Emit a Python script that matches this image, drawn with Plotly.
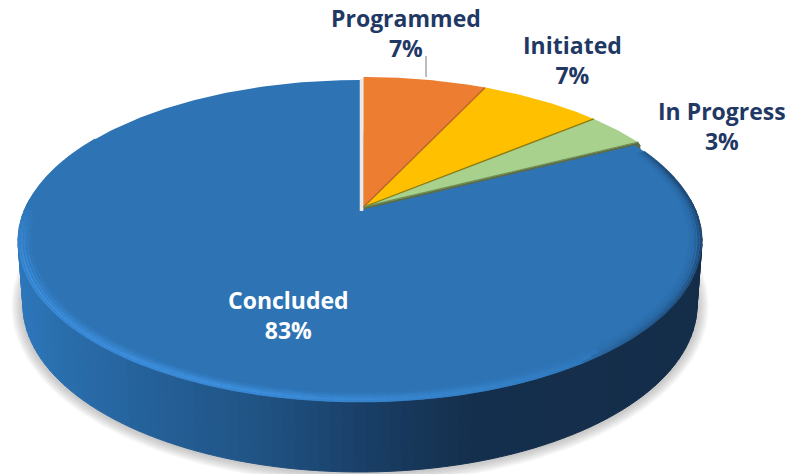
import numpy as np
import plotly.graph_objects as go

categories = ["Concluded", "Programmed", "Initiated", "In Progress"]
values = [82.51, 7.0, 7.0, 3.49]
slice_colors = ["#2e74b5", "#ed7d31", "#ffc000", "#a9d18e"]
edge_colors = ["#5e7a45", "#b8642c", "#8a7a10", "#6f8f55"]
label_colors = ["#ffffff", "#1f3864", "#1f3864", "#1f3864"]
label_pos = {"Concluded": (288, 315), "Programmed": (406, 33), "Initiated": (572, 60), "In Progress": (722, 126)}

W, H = 803, 474
CX, APEX_Y = 360, 210
C = -0.1925
A = 114.6
S = 335.6


def project(theta_deg, r=1.0, dx=0.0, dy=0.0):
    t = np.radians(theta_deg)
    u, v = r * np.sin(t), -r * np.cos(t)
    d = 1 + C * v
    return CX + S * u / d + dx, (A * v + APEX_Y) / d + dy


def hexrgb(h):
    return np.array([int(h[i:i + 2], 16) for i in (1, 3, 5)], float)


def ramp(x, xs, cols):
    arr = np.array([hexrgb(c) for c in cols])
    return "rgb(%d,%d,%d)" % tuple(np.interp(x, xs, arr[:, i]) for i in range(3))


def blend(a, b, w):
    v = hexrgb(a) + (hexrgb(b) - hexrgb(a)) * w
    return "rgb(%d,%d,%d)" % tuple(v)


fig = go.Figure()


def poly(xs, ys, fill, line=None, width=1):
    fig.add_trace(go.Scatter(x=list(xs), y=list(ys), mode="lines", fill="toself", fillcolor=fill,
                             line=dict(color=line or fill, width=width if line else 0),
                             hoverinfo="skip", showlegend=False))


def stroke(xs, ys, color, width):
    fig.add_trace(go.Scatter(x=list(xs), y=list(ys), mode="lines", line=dict(color=color, width=width),
                             hoverinfo="skip", showlegend=False))


# soft shadow
phi = np.radians(np.linspace(0, 360, 181))
for k in range(9, 0, -1):
    poly(360 + (337 + k * 1.3) * np.cos(phi), 306 + (167 + k * 1.2) * np.sin(phi), "rgba(120,120,120,0.055)")

# side wall
wall_x = [18, 60, 150, 250, 330, 400, 470, 702]
wall_c = ["#2e78bd", "#2a6fae", "#25619a", "#215586", "#1c4672", "#183a5e", "#15304e", "#142d49"]
edges = np.radians(np.linspace(195, -15, 106))
for a, b in zip(edges[:-1], edges[1:]):
    xs = [360 + 342 * np.cos(a), 360 + 342 * np.cos(b), 360 + 337 * np.cos(b), 360 + 337 * np.cos(a)]
    ys = [241 + 161 * np.sin(a), 241 + 161 * np.sin(b), 305 + 167 * np.sin(b), 305 + 167 * np.sin(a)]
    c = ramp(np.mean(xs), wall_x, wall_c)
    poly(xs + xs[:1], ys + ys[:1], c, c, 1)

# angles of slices clockwise from 12 o'clock: small slices first, Concluded last
fracs = np.array(values[1:]) / sum(values) * 360
bounds = np.concatenate([[0], np.cumsum(fracs)])
OFF = (3.5, -3.0)
tx, ty = project(bounds[-1], 1.0, *OFF)
ax, ay = CX + OFF[0], APEX_Y + OFF[1]

# cut face under the In Progress edge, mostly hidden by the Concluded top
poly([ax, tx, tx + 2, tx + 2, ax], [ay, ty, ty + 3, ty + 12, ay + 5], "#5d6b45")

# Concluded top
th = np.linspace(bounds[-1], 360, 300)
x, y = project(th)
poly(np.r_[CX + 1, x, CX + 1], np.r_[APEX_Y, y, APEX_Y], slice_colors[0])

# soft bevel: light on the lower left, dark on the right, fading by angle
base = slice_colors[0]
light = "#3f92e2"
dark = "#1b3f66"
th = np.linspace(66, 300, 118)
lit_a = [62, 135, 165, 200, 250, 262, 272, 300]
lit_w = [0, 0, 0.55, 0.95, 0.9, 0.6, 0, 0]
shade_a = [62, 75, 110, 135, 150, 300]
shade_w = [0.25, 0.8, 0.8, 0.45, 0, 0]
layers = [(0.966, 0.2, 0.1), (0.974, 0.45, 0.2), (0.982, 0.75, 0.4), (0.990, 1.0, 0.7), (0.997, 0.75, 1.0)]
for r, sl, sd in layers:
    for a, b in zip(th[:-1], th[1:]):
        m = (a + b) / 2
        wl = np.interp(m, lit_a, lit_w) * sl
        wd = np.interp(m, shade_a, shade_w) * sd
        col = blend(base, dark, wd) if wd > wl else blend(base, light, wl)
        xs, ys = project(np.array([a, b]), r)
        stroke(xs, ys, col, 2.2)

# gap strip beside Programmed
x0, y0 = project(0.0)
stroke([CX + 1.5, CX + 1.5], [y0 - 1, APEX_Y + 1], "#e9e9e9", 3.5)

# small slices
for i in range(1, 4):
    th = np.linspace(bounds[i - 1], bounds[i], 40)
    x, y = project(th, 1.0, *OFF)
    poly(np.r_[ax, x, ax], np.r_[ay, y, ay], slice_colors[i])

# separators
for i in range(1, 4):
    xe, ye = project(bounds[i], 1.0, *OFF)
    stroke([ax, xe], [ay, ye], edge_colors[i], 1.3)

# leader line
stroke([426, 426], [56, 77], "#a6a6a6", 1.5)

pcts = ["%d%%" % round(v) for v in values]
ann = []
for cat, pct, col in zip(categories, pcts, label_colors):
    px, py = label_pos[cat]
    ann.append(dict(x=px, y=py, xref="x", yref="y", text=f"<b>{cat}<br>{pct}</b>", showarrow=False,
                    font=dict(family="Open Sans", size=23, color=col), align="center"))

fig.update_layout(width=W, height=H, margin=dict(l=0, r=0, t=0, b=0), paper_bgcolor="white",
                  plot_bgcolor="white", showlegend=False, annotations=ann,
                  xaxis=dict(range=[0, W], visible=False, fixedrange=True),
                  yaxis=dict(range=[H, 0], visible=False, fixedrange=True))
fig.write_html("out.html", config={"displayModeBar": False},
               post_script="document.body.style.margin='0';document.body.style.overflow='hidden';")
